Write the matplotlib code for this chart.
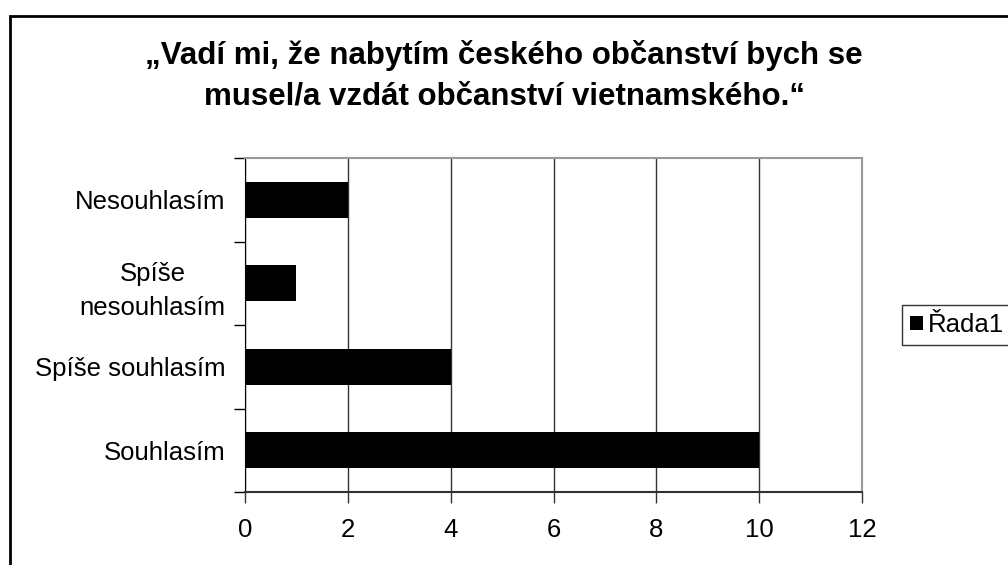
import numpy as np
import matplotlib.pyplot as plt
from matplotlib.patches import Rectangle

# odpovedi (zdola nahoru) a pocty
categories = ['Souhlasím', 'Spíše souhlasím', 'Spíše\nnesouhlasím', 'Nesouhlasím']
values = [10, 4, 1, 2]
series_name = 'Řada1'
title = '„Vadí mi, že nabytím českého občanství bych se\nmusel/a vzdát občanství vietnamského.“'
x_ticks = [0, 2, 4, 6, 8, 10, 12]

plt.rcParams['font.family'] = ['Liberation Sans', 'DejaVu Sans']

fig = plt.figure(figsize=(10.08, 5.65), dpi=100)
ax = fig.add_axes([245/1008, 1-492/565, (862-245)/1008, (492-158)/565])

y = np.arange(len(categories))
ax.barh(y, values, height=0.43, color='black', label=series_name, zorder=3)

ax.set_xlim(0, 12)
ax.set_ylim(-0.5, len(categories)-0.5)
ax.set_xticks(x_ticks)
ax.set_xticklabels([str(t) for t in x_ticks], fontsize=18.5)
ax.tick_params(axis='x', direction='out', length=8, width=1, pad=11, color='#333333')
ax.xaxis.grid(True, color='#333333', lw=1, zorder=1)

# y: carky na hranicich kategorii, popisky uprostred
ax.set_yticks(np.arange(len(categories)+1) - 0.5)
ax.set_yticklabels([])
ax.tick_params(axis='y', which='major', direction='out', length=8, width=1)
ax.set_yticks(y, minor=True)
ax.set_yticklabels(categories, minor=True, fontsize=18.5, multialignment='center',
                   linespacing=1.55)
ax.tick_params(axis='y', which='minor', length=0, pad=14)

ax.spines['left'].set_color('black')
ax.spines['bottom'].set_color('#333333')
ax.spines['bottom'].set_linewidth(1.5)
ax.spines['top'].set_color('#999999')
ax.spines['right'].set_color('#999999')
ax.spines['top'].set_linewidth(1.5)
ax.spines['right'].set_linewidth(1.5)

fig.text(504/1008, 1-76/565, title, ha='center', va='center', fontsize=22.5,
         fontweight='bold', linespacing=1.45)

leg = fig.legend(loc='center left', bbox_to_anchor=(902/1008, 1-325/565),
                 fontsize=18.5, frameon=True, fancybox=False, handlelength=0.5,
                 handleheight=0.5, handletextpad=0.2, borderpad=0.3,
                 borderaxespad=0)
leg.get_frame().set_edgecolor('black')
leg.get_frame().set_linewidth(1)

# ramecek kolem celeho grafu
fig.patches.append(Rectangle((10/1008, -0.1), 1.2, 1.1 - 16/565, fill=False,
                             edgecolor='black', lw=2, transform=fig.transFigure))

plt.savefig('out.png', dpi=100)
